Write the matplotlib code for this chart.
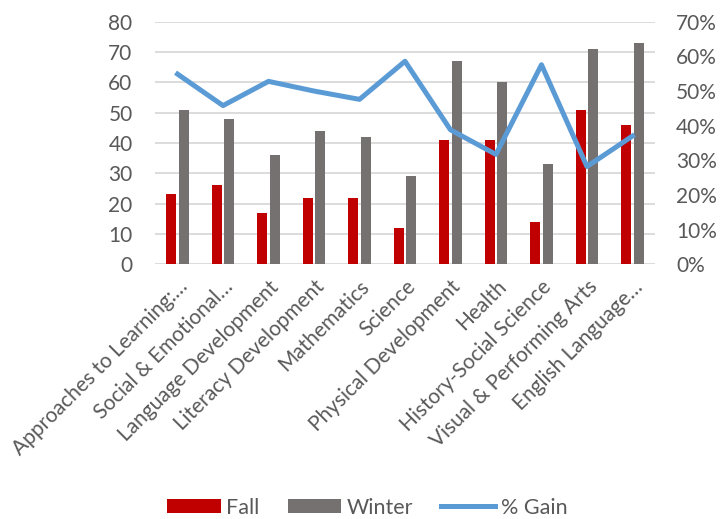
import numpy as np
import matplotlib.pyplot as plt

categories = ["Approaches to Learning:…", "Social & Emotional…", "Language Development",
              "Literacy Development", "Mathematics", "Science", "Physical Development",
              "Health", "History-Social Science", "Visual & Performing Arts",
              "English Language…"]
fall = [23, 26, 17, 22, 22, 12, 41, 41, 14, 51, 46]
winter = [51, 48, 36, 44, 42, 29, 67, 60, 33, 71, 73]
gain = [0.549, 0.458, 0.528, 0.50, 0.476, 0.586, 0.388, 0.317, 0.576, 0.282, 0.37]

plt.rcParams['font.family'] = ['Lato', 'DejaVu Sans']
txt = '#595959'
grid = '#D9D9D9'

fig = plt.figure(figsize=(7.2, 5.19), dpi=100)
ax = fig.add_axes([0.215, 0.491, 0.695, 0.467])
x = np.arange(len(categories))
w = 0.22
ax.bar(x - 0.14, fall, w, color='#C00000', label='Fall', zorder=2)
ax.bar(x + 0.14, winter, w, color='#767171', label='Winter', zorder=2)
ax.set_ylim(0, 80)
ax.set_xlim(-0.5, len(categories) - 0.5)
ax.set_yticks(range(0, 81, 10))
ax.grid(axis='y', color=grid, linewidth=1.3, zorder=0)
ax.set_axisbelow(True)
for s in ax.spines.values():
    s.set_visible(False)
ax.tick_params(axis='both', length=0, colors=txt, labelsize=15)
ax.tick_params(axis='y', pad=16)
ax.set_xticks(x)
ax.set_xticklabels(categories, rotation=45, ha='right', rotation_mode='anchor',
                   fontsize=15)
ax.tick_params(axis='x', pad=9)

ax2 = ax.twinx()
ax2.plot(x, gain, color='#5B9BD5', linewidth=3.6, label='% Gain', zorder=3)
ax2.set_ylim(0, 0.7)
ax2.set_yticks(np.arange(0, 0.71, 0.1))
ax2.set_yticklabels([f"{int(round(v*100))}%" for v in np.arange(0, 0.71, 0.1)])
for s in ax2.spines.values():
    s.set_visible(False)
ax2.tick_params(axis='y', length=0, colors=txt, labelsize=15, pad=15)

h1, l1 = ax.get_legend_handles_labels()
h2, l2 = ax2.get_legend_handles_labels()
fig.legend(h1 + h2, l1 + l2, loc='lower center', bbox_to_anchor=(0.51, -0.035),
           ncol=3, frameon=False, fontsize=15.5, labelcolor=txt,
           handlelength=2.5, handleheight=0.65, columnspacing=1.3, handletextpad=0.25)

fig.savefig('out.png', dpi=100)
